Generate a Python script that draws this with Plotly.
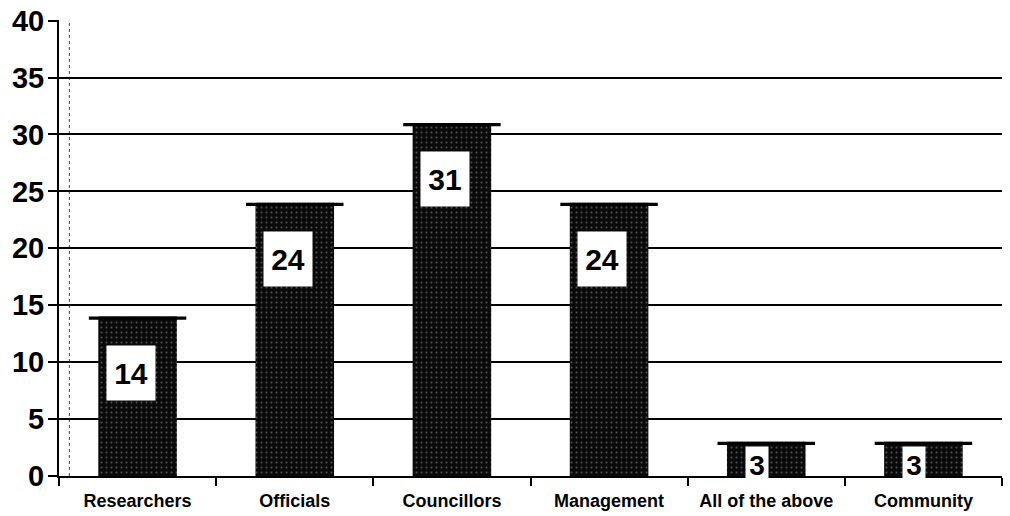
import plotly.graph_objects as go

categories = ["Researchers", "Officials", "Councillors", "Management", "All of the above", "Community"]
values = [14, 24, 31, 24, 3, 3]
y_ticks = [0, 5, 10, 15, 20, 25, 30, 35, 40]

FONT = "Liberation Sans, Arial, sans-serif"

fig = go.Figure()

# main bars (dark, speckled texture)
fig.add_trace(go.Bar(
    x=categories, y=values, width=0.5,
    marker=dict(color="#0a0a0a", line=dict(width=0),
                pattern=dict(shape=".", fgcolor="#9a9a9a", bgcolor="#0a0a0a",
                             size=5, solidity=0.12, fillmode="overlay")),
    hoverinfo="skip", showlegend=False,
))

# flared cap at the top of each bar
cap = 0.28
fig.add_trace(go.Bar(
    x=categories, y=[cap] * len(values), base=[v - cap for v in values], width=0.62,
    marker=dict(color="#000000", line=dict(width=0)),
    hoverinfo="skip", showlegend=False,
))

# value labels in white boxes
for c, v in zip(categories, values):
    if v > 6:
        fig.add_annotation(x=c, y=v, yanchor="top", yshift=-28, xshift=-7,
                           text="<b>%d</b>" % v, showarrow=False,
                           font=dict(family=FONT, size=30, color="black"),
                           bgcolor="white", borderpad=0, width=48, height=54)
    else:
        fig.add_annotation(x=c, y=v, yanchor="top", yshift=-4, xshift=-9,
                           text="<b>%d</b>" % v, showarrow=False,
                           font=dict(family=FONT, size=28, color="black"),
                           bgcolor="white", borderpad=0, width=22, height=34,
                           valign="bottom")

# faint dotted inner left border
fig.add_shape(type="line", xref="paper", yref="y", x0=0.011, x1=0.011, y0=0, y1=40,
              line=dict(color="#444", width=1, dash="dot"), layer="below")

fig.update_layout(
    width=1010, height=516,
    margin=dict(l=59, r=8, t=20, b=40),
    paper_bgcolor="white", plot_bgcolor="white",
    barmode="overlay", bargap=0.5,
    font=dict(family=FONT, color="black"),
    showlegend=False,
)
fig.update_xaxes(
    type="category", tickson="boundaries", automargin=False,
    ticks="outside", ticklen=8, tickwidth=2, tickcolor="black",
    showline=True, linecolor="black", linewidth=2,
    showgrid=False,
    tickfont=dict(family=FONT, size=18, color="black"),
    tickprefix="<b>", ticksuffix="</b>",
    ticklabelstandoff=7,
)
fig.update_yaxes(
    range=[0, 40.05], tickvals=y_ticks, ticktext=["<b>%d</b>" % t for t in y_ticks],
    automargin=False, ticklabeloverflow="allow",
    ticks="outside", ticklen=9, tickwidth=2, tickcolor="black",
    showline=True, linecolor="black", linewidth=2,
    showgrid=True, gridcolor="black", gridwidth=2,
    zeroline=False,
    tickfont=dict(family=FONT, size=29, color="black"),
    ticklabelstandoff=-2,
)

# remove the browser's default 8px body margin so the figure fills the window
fig.write_html("out.html", config={"displayModeBar": False},
               post_script="document.body.style.margin='0';")
